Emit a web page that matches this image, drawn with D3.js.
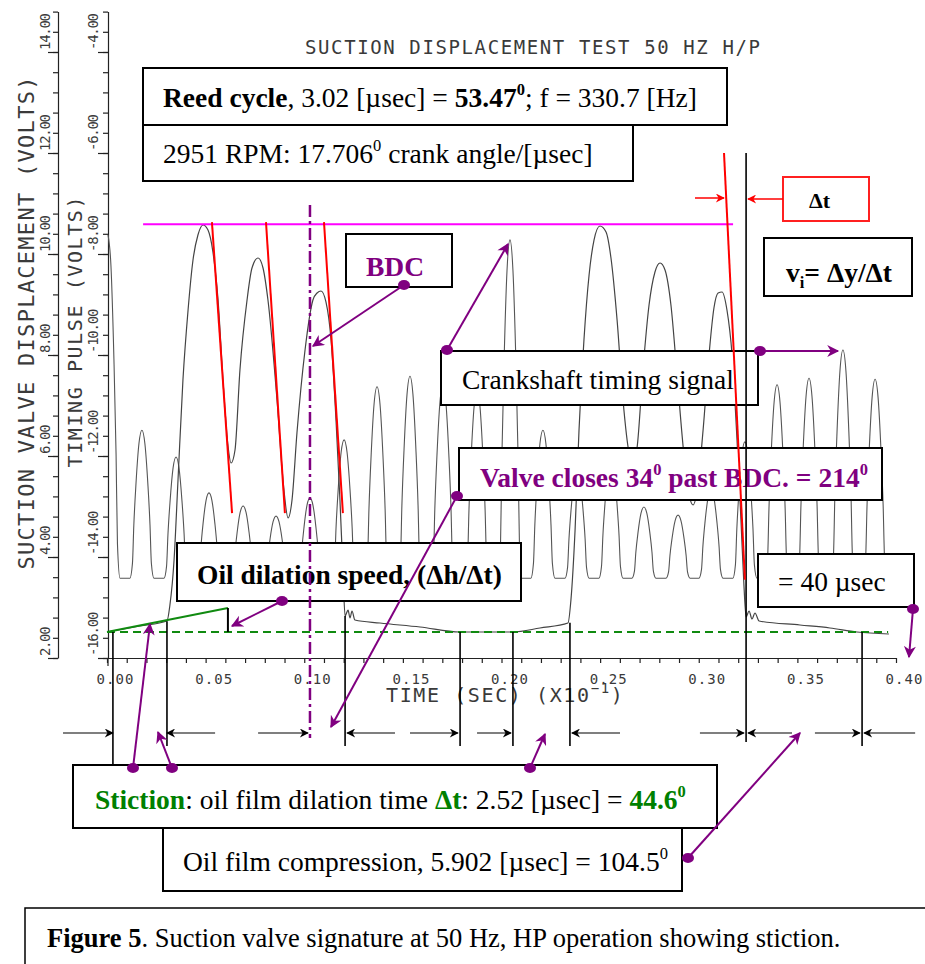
<!DOCTYPE html>
<meta charset="utf-8">
<script src="https://cdn.jsdelivr.net/npm/d3@7"></script>
<style>
body { margin: 0; background: #fff; }
.plot { font-family: "DejaVu Sans Mono", monospace; fill: #3a3a3a; }
.note { font-family: "Liberation Serif", "Times New Roman", serif; fill: #000; }
.axis path, .axis line { stroke: #222; stroke-width: 1.2; }
</style>
<svg id="fig" width="925" height="964"></svg>
<script>

// timing pulse: peak time (sec x10^-1) and peak level (volts, timing axis)
var pulseTimes = [0.0005, 0.0177, 0.0350, 0.0517, 0.0690, 0.0857, 0.1029, 0.1202, 0.1369, 0.1536, 0.1703, 0.1876,
                  0.2043, 0.2210, 0.2383, 0.2555, 0.2722, 0.2895, 0.3062, 0.3234, 0.3397, 0.3559, 0.3731, 0.3894];
var pulseVolts = [-7.62, -11.49, -12.02, -12.73, -12.99, -13.19, -12.83, -11.68, -10.63, -10.42, -10.59, -10.69,
                  -7.72, -11.49, -12.28, -12.08, -13.01, -13.17, -12.67, -11.72, -10.59, -10.46, -9.90, -10.48];
var pulseBase = -14.42;
// outline of one pulse: time offset, fraction of pulse height
var pulseShape = [[-0.0061, 0], [-0.0048, 0.1], [-0.0041, 0.36], [-0.0030, 0.64], [-0.0015, 0.91], [0, 1],
                  [0.0015, 0.91], [0.0030, 0.64], [0.0041, 0.36], [0.0048, 0.1], [0.0061, 0]];

// suction valve displacement trace (sec x10^-1, volts)
var valveT = [0, 0.0167, 0.0304, 0.0319, 0.0340, 0.0360, 0.0385, 0.0411, 0.0436, 0.0461, 0.0487, 0.0512, 0.0537,
  0.0563, 0.0588, 0.0613, 0.0629, 0.0649, 0.0674, 0.0710, 0.0735, 0.0766, 0.0791, 0.0816, 0.0862, 0.0897, 0.0918,
  0.0938, 0.0963, 0.1004, 0.1044, 0.1065, 0.1085, 0.1110, 0.1136, 0.1161, 0.1181, 0.1196, 0.1207, 0.1222, 0.1232,
  0.1242, 0.1257, 0.1384, 0.1587, 0.1790, 0.2058, 0.2195, 0.2337, 0.2352, 0.2373, 0.2393, 0.2418, 0.2444, 0.2469,
  0.2499, 0.2530, 0.2555, 0.2586, 0.2616, 0.2646, 0.2667, 0.2687, 0.2717, 0.2748, 0.2778, 0.2804, 0.2829, 0.2859,
  0.2890, 0.2925, 0.2951, 0.2971, 0.2991, 0.3022, 0.3052, 0.3077, 0.3098, 0.3118, 0.3143, 0.3169, 0.3194, 0.3214,
  0.3229, 0.3240, 0.3255, 0.3270, 0.3285, 0.3306, 0.3513, 0.3665, 0.3802, 0.3964];
var valveV = [2.515, 2.634, 2.733, 3.049, 3.941, 5.525, 7.505, 8.891, 9.881, 10.376, 10.574, 10.475, 10.040,
  9.089, 7.505, 6.218, 5.861, 6.119, 7.703, 9.089, 9.723, 9.921, 9.723, 9.089, 7.109, 5.327, 4.772,
  5.129, 6.455, 8.099, 9.089, 9.228, 9.267, 9.050, 8.297, 6.713, 5.129, 3.743, 2.832, 2.950, 2.792,
  2.931, 2.752, 2.693, 2.614, 2.515, 2.515, 2.594, 2.693, 3.149, 4.535, 6.515, 8.297, 9.584, 10.277,
  10.554, 10.436, 9.921, 8.693, 7.109, 6.079, 5.881, 6.158, 7.703, 8.990, 9.644, 9.822, 9.683, 8.990,
  7.604, 6.020, 5.228, 5.030, 5.287, 6.515, 8.000, 8.931, 9.228, 9.248, 8.891, 8.000, 6.317, 4.733,
  3.446, 2.812, 2.931, 2.772, 2.891, 2.733, 2.653, 2.594, 2.515, 2.475];

// ticks
var xTicks = [0, 0.05, 0.10, 0.15, 0.20, 0.25, 0.30, 0.35, 0.40];
var xTickLabels = ["0.00", "0.05", "0.10", "0.15", "0.20", "0.25", "0.30", "0.35", "0.40"];
var dispTicks = [2, 4, 6, 8, 10, 12, 14];
var dispTickLabels = ["2.00", "4.00", "6.00", "8.00", "10.00", "12.00", "14.00"];
var pulseTicks = [-16, -14, -12, -10, -8, -6, -4];
var pulseTickLabels = ["-16.00", "-14.00", "-12.00", "-10.00", "-8.00", "-6.00", "-4.00"];

// annotation lines (time, displacement volts)
var tangents = [[0.0532, 10.63, 0.0634, 4.87], [0.0806, 10.63, 0.0902, 4.87], [0.1100, 10.63, 0.1196, 4.87]];
var lastTangent = [0.3128, 12.0, 0.3234, 3.55];
var peakLevel = 10.59, peakFrom = 0.0183, peakTo = 0.3174;
var baseLevel = 2.515;
var dilation = [0, 2.515, 0.0613, 2.99];
var bdcTime = 0.1029;
var closeTime = 0.3240;
var markTimes = [0.0030, 0.0304, 0.1207, 0.1790, 0.2058, 0.2347, 0.3828];
var markTops = [2.515, 2.73, 2.83, 2.515, 2.515, 2.70, 2.515];
var spanArrows = [[-0.0223, 0.0030], [0.0548, 0.0304], [0.0766, 0.1019], [0.1460, 0.1217], [0.1536, 0.1779],
                  [0.1876, 0.2048], [0.2601, 0.2357], [0.3006, 0.3229], [0.3473, 0.3250], [0.3589, 0.3817],
                  [0.4097, 0.3838]];

var svg = d3.select("#fig");
var x = d3.scaleLinear().domain([0, 0.4]).range([107, 896]);
var yD = d3.scaleLinear().domain([2, 14.8]).range([658, 11.6]);
var yT = d3.scaleLinear().domain([-16, -3.2]).range([658, 11.6]);

var defs = svg.append("defs");
function marker(id, color, w, h) {
  defs.append("marker").attr("id", id).attr("viewBox", "0 0 10 10").attr("refX", 9).attr("refY", 5)
    .attr("markerWidth", w).attr("markerHeight", h).attr("markerUnits", "userSpaceOnUse").attr("orient", "auto")
    .append("path").attr("d", "M0,0 L10,5 L0,10 L3,5 z").attr("fill", color);
}
marker("pArrow", "#800080", 20, 12);
marker("kArrow", "#000", 14, 9);
marker("rArrow", "#ff0000", 14, 9);

// ---- axes
svg.append("g").attr("class", "axis").attr("transform", "translate(0,658)")
  .call(d3.axisBottom(x).tickValues(d3.range(0, 0.4001, 0.01)).tickSize(5).tickSizeOuter(0).tickFormat(""));
svg.append("g").attr("class", "axis").attr("transform", "translate(58,0)")
  .call(d3.axisLeft(yD).tickValues(d3.range(2, 14.81, 0.4)).tickSize(5).tickSizeOuter(0).tickFormat(""));
svg.append("g").attr("class", "axis").attr("transform", "translate(58,0)")
  .call(d3.axisLeft(yD).tickValues(dispTicks).tickSize(10).tickFormat("")).select(".domain").remove();
svg.append("g").attr("class", "axis").attr("transform", "translate(108,0)")
  .call(d3.axisLeft(yT).tickValues(d3.range(-16, -3.19, 0.4)).tickSize(5).tickSizeOuter(0).tickFormat(""));
svg.append("g").attr("class", "axis").attr("transform", "translate(108,0)")
  .call(d3.axisLeft(yT).tickValues(pulseTicks).tickSize(10).tickFormat("")).select(".domain").remove();
svg.append("line").attr("x1", 108).attr("x2", 108).attr("y1", 658).attr("y2", 666).attr("stroke", "#222").attr("stroke-width", 1.2);

svg.selectAll(".xl").data(xTicks).enter().append("text").attr("class", "plot")
  .attr("x", function(d) { return x(d) + 8; }).attr("y", 684).attr("text-anchor", "middle")
  .style("font-size", "14px").attr("textLength", 37).attr("lengthAdjust", "spacing")
  .text(function(d, i) { return xTickLabels[i]; });

svg.selectAll(".dl").data(dispTicks).enter().append("text").attr("class", "plot")
  .attr("transform", function(d) { return "translate(50," + (yD(d) - 2) + ") rotate(-90)"; })
  .style("font-size", "14px")
  .attr("textLength", function(d, i) { return dispTickLabels[i].length * 7.4; })
  .text(function(d, i) { return dispTickLabels[i]; });

svg.selectAll(".tl").data(pulseTicks).enter().append("text").attr("class", "plot")
  .attr("transform", function(d) { return "translate(98," + (yT(d) - 2) + ") rotate(-90)"; })
  .style("font-size", "14px")
  .attr("textLength", function(d, i) { return pulseTickLabels[i].length * 7.4; })
  .text(function(d, i) { return pulseTickLabels[i]; });

svg.append("text").attr("class", "plot").attr("transform", "translate(34,323) rotate(-90)")
  .attr("text-anchor", "middle").style("font-size", "22px").attr("textLength", 493)
  .text("SUCTION VALVE DISPLACEMENT (VOLTS)");
svg.append("text").attr("class", "plot").attr("transform", "translate(82,332) rotate(-90)")
  .attr("text-anchor", "middle").style("font-size", "20px").attr("textLength", 271)
  .text("TIMING PULSE (VOLTS)");
svg.append("text").attr("class", "plot").attr("x", 305).attr("y", 54)
  .style("font-size", "19px").attr("textLength", 455).text("SUCTION DISPLACEMENT TEST 50 HZ H/P");
var tx = svg.append("text").attr("class", "plot").attr("x", 386).attr("y", 702)
  .style("font-size", "20px").style("letter-spacing", "1.6px");
tx.append("tspan").text("TIME (SEC)  (X10");
tx.append("tspan").attr("dy", -9).style("font-size", "14px").text("\u22121");
tx.append("tspan").attr("dy", 9).text(")");

// ---- traces
var timingPts = [];
pulseTimes.forEach(function(t, i) {
  pulseShape.forEach(function(p) {
    var tt = t + p[0];
    if (tt >= 0) timingPts.push([tt, pulseBase + p[1] * (pulseVolts[i] - pulseBase)]);
  });
});
svg.append("path").attr("fill", "none").attr("stroke", "#555").attr("stroke-width", 1.1)
  .attr("d", d3.line().x(function(d) { return x(d[0]); }).y(function(d) { return yT(d[1]); })
    .curve(d3.curveMonotoneX)(timingPts));
svg.append("path").attr("fill", "none").attr("stroke", "#444").attr("stroke-width", 1.2)
  .attr("d", d3.line().x(function(d) { return x(d); }).y(function(d, i) { return yD(valveV[i]); })
    .curve(d3.curveMonotoneX)(valveT));

// ---- reference lines
svg.append("line").attr("x1", x(0)).attr("x2", x(0.396)).attr("y1", yD(baseLevel)).attr("y2", yD(baseLevel))
  .attr("stroke", "#108a10").attr("stroke-width", 2).attr("stroke-dasharray", "8,5");
svg.append("line").attr("x1", x(dilation[0])).attr("y1", yD(dilation[1])).attr("x2", x(dilation[2])).attr("y2", yD(dilation[3]))
  .attr("stroke", "#108a10").attr("stroke-width", 2);
svg.append("line").attr("x1", x(dilation[2])).attr("x2", x(dilation[2])).attr("y1", yD(dilation[3])).attr("y2", yD(baseLevel))
  .attr("stroke", "#000").attr("stroke-width", 2);
svg.append("line").attr("x1", x(peakFrom)).attr("x2", x(peakTo)).attr("y1", yD(peakLevel)).attr("y2", yD(peakLevel))
  .attr("stroke", "#ff00ff").attr("stroke-width", 2);
svg.selectAll(".tan").data(tangents).enter().append("line")
  .attr("x1", function(d) { return x(d[0]); }).attr("y1", function(d) { return yD(d[1]); })
  .attr("x2", function(d) { return x(d[2]); }).attr("y2", function(d) { return yD(d[3]); })
  .attr("stroke", "#ff0000").attr("stroke-width", 2);

// ---- note boxes
var boxes = [
  [143, 68, 584, 57], [143, 125, 490, 56], [346, 234, 106, 53], [764, 238, 148, 58],
  [441, 351, 317, 54], [459, 448, 423, 52], [177, 543, 344, 58], [758, 554, 156, 53],
  [73, 765, 644, 63], [163, 828, 519, 63]
];
svg.selectAll(".box").data(boxes).enter().append("rect")
  .attr("x", function(d) { return d[0]; }).attr("y", function(d) { return d[1]; })
  .attr("width", function(d) { return d[2]; }).attr("height", function(d) { return d[3]; })
  .attr("fill", "#fff").attr("stroke", "#000").attr("stroke-width", 2);
svg.append("rect").attr("x", 783).attr("y", 177).attr("width", 86).attr("height", 44)
  .attr("fill", "#fff").attr("stroke", "#ff2020").attr("stroke-width", 2);
svg.append("rect").attr("x", 25).attr("y", 908).attr("width", 920).attr("height", 80)
  .attr("fill", "none").attr("stroke", "#000").attr("stroke-width", 1.5);

function note(px, py, size, parts) {
  var t = svg.append("text").attr("class", "note").attr("x", px).attr("y", py).style("font-size", size + "px");
  var shift = 0;
  parts.forEach(function(p) {
    var s = t.append("tspan").text(p.t);
    var want = p.sup ? -0.42 * size : (p.sub ? 0.22 * size : 0);
    if (want !== shift) { s.attr("dy", want - shift); shift = want; }
    if (p.sup || p.sub) s.style("font-size", (0.6 * size) + "px");
    if (p.b) s.style("font-weight", "bold");
    if (p.c) s.style("fill", p.c);
  });
}
var purple = "#800080", green = "#008000";
var fs = 27.5;
note(163, 107, fs, [{t: "Reed cycle", b: 1}, {t: ", 3.02 [\u00b5sec] = "}, {t: "53.47", b: 1}, {t: "0", b: 1, sup: 1}, {t: "; f = 330.7 [Hz]"}]);
note(163, 163, fs, [{t: "2951 RPM: 17.706"}, {t: "0", sup: 1}, {t: " crank angle/[\u00b5sec]"}]);
note(366, 276, fs, [{t: "BDC", b: 1, c: purple}]);
note(809, 208, 22, [{t: "\u0394t", b: 1}]);
note(786, 282, fs, [{t: "v", b: 1}, {t: "i", b: 1, sub: 1}, {t: "= \u0394y/\u0394t", b: 1}]);
note(462, 389, fs, [{t: "Crankshaft timing signal"}]);
note(480, 487, fs, [{t: "Valve closes 34", b: 1, c: purple}, {t: "0", b: 1, sup: 1, c: purple}, {t: " past BDC. = 214", b: 1, c: purple}, {t: "0", b: 1, sup: 1, c: purple}]);
note(197, 584, fs, [{t: "Oil dilation speed, (\u0394h/\u0394t)", b: 1}]);
note(778, 591, fs, [{t: "= 40 \u00b5sec"}]);
note(95, 809, fs, [{t: "Stiction", b: 1, c: green}, {t: ": oil film dilation time "}, {t: "\u0394t", b: 1, c: green}, {t: ": 2.52 [\u00b5sec] = "}, {t: "44.6", b: 1, c: green}, {t: "0", b: 1, sup: 1, c: green}]);
note(183, 871, fs, [{t: "Oil film compression, 5.902 [\u00b5sec] = 104.5"}, {t: "0", sup: 1}]);
note(47, 947, 26.5, [{t: "Figure 5", b: 1}, {t: ". Suction valve signature at 50 Hz, HP operation showing stiction."}]);

// ---- lines drawn over the boxes
svg.append("line").attr("x1", x(bdcTime)).attr("x2", x(bdcTime)).attr("y1", yD(10.97)).attr("y2", 738)
  .attr("stroke", purple).attr("stroke-width", 2.5).attr("stroke-dasharray", "12,4,3,4");
svg.append("line").attr("x1", x(closeTime)).attr("x2", x(closeTime)).attr("y1", yD(12.0)).attr("y2", 742)
  .attr("stroke", "#000").attr("stroke-width", 1.6);
svg.append("line").attr("x1", x(lastTangent[0])).attr("y1", yD(lastTangent[1]))
  .attr("x2", x(lastTangent[2])).attr("y2", yD(lastTangent[3])).attr("stroke", "#ff0000").attr("stroke-width", 2);
svg.selectAll(".mark").data(markTimes).enter().append("line")
  .attr("x1", function(d) { return x(d); }).attr("x2", function(d) { return x(d); })
  .attr("y1", function(d, i) { return yD(markTops[i]); }).attr("y2", function(d, i) { return i === 0 ? 766 : 746; })
  .attr("stroke", "#000").attr("stroke-width", 1.6);
svg.selectAll(".span").data(spanArrows).enter().append("line")
  .attr("x1", function(d) { return x(d[0]); }).attr("x2", function(d) { return x(d[1]); })
  .attr("y1", 733).attr("y2", 733).attr("stroke", "#000").attr("stroke-width", 1.2)
  .attr("marker-end", "url(#kArrow)");
// delta t arrows at the closing tangent
svg.append("line").attr("x1", 695).attr("x2", 724).attr("y1", 198).attr("y2", 198)
  .attr("stroke", "#ff0000").attr("stroke-width", 1.5).attr("marker-end", "url(#rArrow)");
svg.append("line").attr("x1", 783).attr("x2", 748).attr("y1", 199).attr("y2", 199)
  .attr("stroke", "#ff0000").attr("stroke-width", 1.5).attr("marker-end", "url(#rArrow)");

// ---- purple pointers (dot at the note, arrow at the feature)
var pointers = [
  [404, 285, 313, 346], [447, 350, 508, 244], [760, 351, 838, 351], [457, 496, 331, 727],
  [282, 601, 232, 626], [913, 609, 909, 657], [133, 768, 150, 624], [172, 768, 158, 732],
  [530, 768, 545, 734], [688, 858, 800, 733]
];
svg.selectAll(".ptr").data(pointers).enter().append("line")
  .attr("x1", function(d) { return d[0]; }).attr("y1", function(d) { return d[1]; })
  .attr("x2", function(d) { return d[2]; }).attr("y2", function(d) { return d[3]; })
  .attr("stroke", purple).attr("stroke-width", 2).attr("marker-end", "url(#pArrow)");
svg.selectAll(".dot").data(pointers).enter().append("ellipse")
  .attr("cx", function(d) { return d[0]; }).attr("cy", function(d) { return d[1]; })
  .attr("rx", 6).attr("ry", 5).attr("fill", purple);
</script>
